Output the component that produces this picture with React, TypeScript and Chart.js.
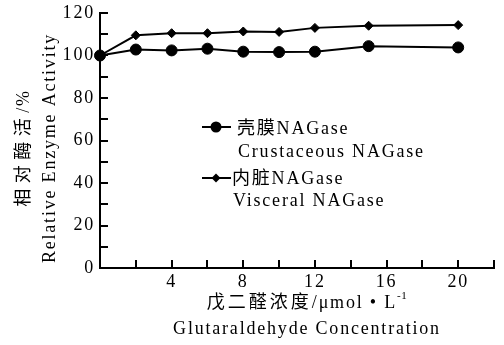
import React, { useEffect, useRef } from 'react';
import { Chart, registerables } from 'chart.js';

Chart.register(...registerables);

// ---- data ----
const concentrations = [0, 2, 4, 6, 8, 10, 12, 15, 20];
const crustaceous = [100, 102.8, 102.4, 103.2, 101.8, 101.6, 101.8, 104.4, 103.8];
const visceral = [100, 109.5, 110.5, 110.5, 111.3, 111.1, 113, 114, 114.3];
const xLabelTicks = [4, 8, 12, 16, 20];
const yLabelTicks = [0, 20, 40, 60, 80, 100, 120];
const legendEntries = [
  ['壳膜NAGase', 'Crustaceous NAGase'],
  ['内脏NAGase', 'Visceral NAGase'],
];
const yTitleCJK = '相对酶活';
const yTitleUnit = '/%';
const yTitleEn = 'Relative Enzyme Activity';
const xTitleCJK = '戊二醛浓度';
const xTitleUnit = '/μmol • L';
const xTitleSup = '-1';
const xTitleEn = 'Glutaraldehyde Concentration';

const FAMILY = '"Liberation Serif", "Noto Sans CJK SC", serif';
const SPACING = '1.8px';

type Seg = { text: string; size: number; spacing: number; dy?: number };

function drawSegs(ctx: CanvasRenderingContext2D, segs: Seg[], cx: number, y: number) {
  const widths = segs.map((s) => {
    ctx.font = `${s.size}px ${FAMILY}`;
    ctx.letterSpacing = `${s.spacing}px`;
    return ctx.measureText(s.text).width;
  });
  const total = widths.reduce((a, b) => a + b, 0);
  let x = cx - total / 2;
  ctx.textAlign = 'left';
  segs.forEach((s, i) => {
    ctx.font = `${s.size}px ${FAMILY}`;
    ctx.letterSpacing = `${s.spacing}px`;
    ctx.fillText(s.text, x, y + (s.dy || 0));
    x += widths[i];
  });
  ctx.letterSpacing = SPACING;
}

const spacingPlugin = {
  id: 'spacing',
  beforeLayout(chart: any) {
    chart.ctx.letterSpacing = SPACING;
  },
  beforeDraw(chart: any) {
    chart.ctx.letterSpacing = SPACING;
  },
};

const decorPlugin = {
  id: 'decor',
  afterDraw(chart: any) {
    const { ctx, chartArea } = chart;
    const L = chartArea.left;
    const B = chartArea.bottom;
    const T = chartArea.top;
    ctx.save();
    ctx.letterSpacing = SPACING;
    ctx.fillStyle = '#000';
    ctx.strokeStyle = '#000';

    // y title (rotated)
    const cy = (T + B) / 2 + 7.5;
    ctx.textBaseline = 'middle';
    ctx.save();
    ctx.translate(L - 76, cy);
    ctx.rotate(-Math.PI / 2);
    drawSegs(ctx, [
      { text: yTitleCJK, size: 18, spacing: 5.5 },
      { text: yTitleUnit, size: 18, spacing: 1.8 },
    ], 0, 0);
    ctx.restore();
    ctx.save();
    ctx.translate(L - 50, cy);
    ctx.rotate(-Math.PI / 2);
    drawSegs(ctx, [{ text: yTitleEn, size: 18, spacing: 1.8 }], 0, 0);
    ctx.restore();

    // x title
    const cx = (L + chartArea.right) / 2 + 10;
    ctx.textBaseline = 'alphabetic';
    drawSegs(ctx, [
      { text: xTitleCJK, size: 18, spacing: 3 },
      { text: xTitleUnit, size: 18, spacing: 1.8 },
      { text: xTitleSup, size: 11, spacing: 0.5, dy: -9 },
    ], cx, B + 40);
    drawSegs(ctx, [{ text: xTitleEn, size: 18, spacing: 1.8 }], cx, B + 66);

    // legend
    const lx0 = L + 102;
    const lx1 = L + 131;
    const mx = L + 116;
    const rows = [
      { my: T + 114, b1: T + 121, b2: T + 144, tx: L + 137, style: 'circle' },
      { my: T + 165, b1: T + 171, b2: T + 193, tx: L + 132, style: 'diamond' },
    ];
    rows.forEach((r, i) => {
      ctx.lineWidth = 2;
      ctx.beginPath();
      ctx.moveTo(lx0, r.my);
      ctx.lineTo(lx1, r.my);
      ctx.stroke();
      ctx.beginPath();
      if (r.style === 'circle') {
        ctx.arc(mx, r.my, 5.5, 0, Math.PI * 2);
      } else {
        const s = 4.5;
        ctx.moveTo(mx, r.my - s);
        ctx.lineTo(mx + s, r.my);
        ctx.lineTo(mx, r.my + s);
        ctx.lineTo(mx - s, r.my);
        ctx.closePath();
      }
      ctx.fill();
      ctx.font = `18px ${FAMILY}`;
      ctx.letterSpacing = SPACING;
      ctx.textAlign = 'left';
      ctx.textBaseline = 'alphabetic';
      ctx.fillText(legendEntries[i][0], r.tx, r.b1);
      ctx.fillText(legendEntries[i][1], r.tx + 1, r.b2);
    });
    ctx.restore();
  },
};

export default function App() {
  const ref = useRef<HTMLCanvasElement | null>(null);

  useEffect(() => {
    document.body.style.margin = '0';
    const canvas = ref.current;
    if (!canvas) return;
    const tickFont = { family: FAMILY, size: 18 };
    const chart = new Chart(canvas, {
      type: 'line',
      data: {
        datasets: [
          {
            label: 'Crustaceous NAGase',
            data: concentrations.map((x, i) => ({ x, y: crustaceous[i] })),
            borderColor: '#000',
            backgroundColor: '#000',
            borderWidth: 2,
            pointStyle: 'circle',
            pointRadius: 5.5,
            pointBorderWidth: 1,
            tension: 0,
            clip: false,
          },
          {
            label: 'Visceral NAGase',
            data: concentrations.map((x, i) => ({ x, y: visceral[i] })),
            borderColor: '#000',
            backgroundColor: '#000',
            borderWidth: 2,
            pointStyle: 'rectRot',
            pointRadius: 4.5,
            pointBorderWidth: 1,
            tension: 0,
            clip: false,
          },
        ],
      },
      options: {
        responsive: false,
        animation: false,
        devicePixelRatio: 1,
        layout: { padding: { top: 13, right: 10, left: 0, bottom: 0 } },
        plugins: {
          legend: { display: false },
          tooltip: { enabled: false },
        },
        scales: {
          x: {
            type: 'linear',
            min: 0,
            max: 22,
            afterFit: (s: any) => {
              s.height = 77;
              s.paddingLeft = 0;
              s.paddingRight = 0;
            },
            border: { display: true, color: '#000', width: 2 },
            grid: {
              drawOnChartArea: false,
              drawTicks: true,
              tickLength: -8,
              color: '#000',
              lineWidth: 2,
            },
            ticks: {
              stepSize: 2,
              autoSkip: false,
              maxRotation: 0,
              padding: 11,
              color: '#000',
              font: tickFont,
              callback: (v: any) => (xLabelTicks.includes(Number(v)) ? String(v) : ''),
            },
          },
          y: {
            min: 0,
            max: 120,
            afterFit: (s: any) => {
              s.width = 100;
              s.paddingTop = 0;
              s.paddingBottom = 0;
            },
            border: { display: true, color: '#000', width: 2 },
            grid: {
              drawOnChartArea: false,
              drawTicks: true,
              tickLength: -8,
              color: '#000',
              lineWidth: 2,
            },
            ticks: {
              stepSize: 10,
              autoSkip: false,
              padding: 13,
              color: '#000',
              font: tickFont,
              callback: (v: any) => (yLabelTicks.includes(Number(v)) ? String(v) : ''),
            },
          },
        },
      },
      plugins: [spacingPlugin, decorPlugin],
    } as any);
    return () => chart.destroy();
  }, []);

  return (
    <div style={{ width: 504, height: 345 }}>
      <canvas ref={ref} width={504} height={345} />
    </div>
  );
}
